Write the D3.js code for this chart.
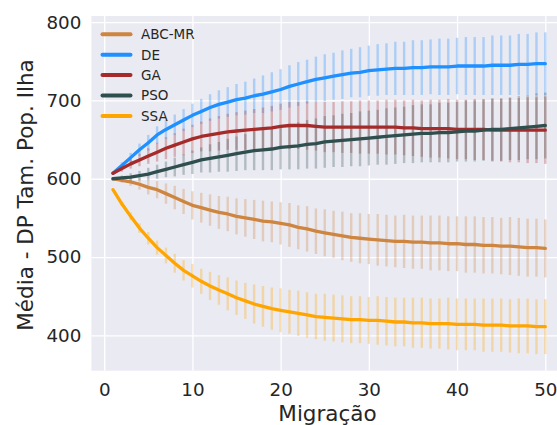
<!DOCTYPE html>
<html><head><meta charset="utf-8">
<script src="https://cdn.jsdelivr.net/npm/d3@7"></script>
<style>body{margin:0;background:#fff}svg{display:block}text{font-family:"DejaVu Sans",sans-serif;fill:#262626}</style>
</head><body>
<svg id="c" width="557" height="425"></svg>
<script>
const xs = [1,2,3,4,5,6,7,8,9,10,11,12,13,14,15,16,17,18,19,20,21,22,23,24,25,26,27,28,29,30,31,32,33,34,35,36,37,38,39,40,41,42,43,44,45,46,47,48,49,50];
const seriesNames = ["ABC-MR","DE","GA","PSO","SSA"];
const seriesColors = ["#CD853F","#1E90FF","#A52A2A","#2F4F4F","#FFA500"];
const abcMean = [600,598,596,593,589,586,581,576,571,566,563,560,557,555,552,550,548,546,545,543,541,538,536,533,531,529,527,525,524,523,522,521,520,520,519,519,518,518,517,517,516,516,515,515,514,514,513,512,512,511];
const abcStd  = [1,3,5,7,9,11,13,15,16,18,19,20,21,22,23,24,25,26,26,27,28,28,29,29,30,30,31,31,32,32,33,33,33,34,34,34,35,35,35,35,36,36,36,36,36,37,37,37,37,37];
const deMean  = [607,617,627,637,646,656,663,669,675,681,686,691,695,698,701,703,706,708,711,714,718,721,724,727,729,731,733,735,736,738,739,740,741,741,742,742,743,743,743,744,744,744,744,745,745,745,746,746,747,747];
const deStd   = [2,4,6,8,10,11,12,13,14,15,16,17,18,19,20,21,22,24,25,26,27,28,28,29,30,30,31,31,32,32,33,33,34,34,35,35,35,36,36,36,37,37,37,38,38,38,39,39,40,40];
const gaMean  = [607,613,619,624,629,634,639,643,647,651,654,656,658,660,661,662,663,664,665,667,668,668,668,667,666,666,666,666,666,666,666,666,666,665,665,664,664,664,664,663,663,663,663,662,662,662,662,662,662,662];
const gaStd   = [2,4,6,8,10,12,14,15,17,18,19,21,22,23,24,25,26,27,28,29,30,30,31,31,32,32,33,33,34,34,34,35,35,35,36,36,37,37,38,38,38,39,39,40,40,41,41,42,42,43];
const psoMean = [600,601,602,604,606,609,612,615,618,621,624,626,628,630,632,634,636,637,638,640,641,642,644,645,647,648,649,650,651,652,653,654,655,656,657,658,658,659,659,660,661,661,662,663,663,664,665,666,667,668];
const psoStd  = [1,3,5,6,8,9,10,12,13,15,16,18,19,21,22,23,25,26,27,28,29,30,31,32,33,33,34,34,35,35,35,36,36,36,37,37,37,38,38,38,39,39,39,40,40,40,41,41,42,42];
const ssaMean = [586,568,552,537,524,512,502,492,483,476,469,463,458,453,448,444,440,437,434,432,430,428,426,424,423,422,421,420,420,419,419,418,417,417,416,416,415,415,415,414,414,414,413,413,413,412,412,412,411,411];
const ssaStd  = [1,3,5,6,8,9,10,12,13,15,16,18,19,21,22,23,25,26,27,28,28,29,29,29,30,30,30,30,30,30,31,31,31,31,32,32,32,32,33,33,33,33,34,34,34,34,35,35,35,35];
const xTicks = [0,10,20,30,40,50];
const yTicks = [400,500,600,700,800];
const xLabel = "Migração";
const yLabel = "Média - DP Tam. Pop. Ilha";

const means = [abcMean, deMean, gaMean, psoMean, ssaMean];
const stds = [abcStd, deStd, gaStd, psoStd, ssaStd];
const series = seriesNames.map((n,i)=>({name:n,color:seriesColors[i],pts:xs.map((x,j)=>({x,m:means[i][j],s:stds[i][j]}))}));

const svg = d3.select("#c");
const L=91.4, R=566.9, T=16, B=370.7;
const x = d3.scaleLinear().domain([-1.45,52.45]).range([L,R]);
const y = d3.scaleLinear().domain([354.8,807.9]).range([B,T]);

svg.append("rect").attr("x",L).attr("y",T).attr("width",R-L).attr("height",B-T).attr("fill","#EAEAF2");

const gx = svg.append("g").attr("transform",`translate(0,${B})`)
  .call(d3.axisBottom(x).tickValues(xTicks).tickSize(-(B-T)).tickPadding(12).tickFormat(d3.format("d")));
const gy = svg.append("g").attr("transform",`translate(${L},0)`)
  .call(d3.axisLeft(y).tickValues(yTicks).tickSize(-(R-L)).tickPadding(10).tickFormat(d3.format("d")));
[gx,gy].forEach(g=>{
  g.select(".domain").remove();
  g.selectAll(".tick line").attr("stroke","#fff").attr("stroke-width",1.3);
  g.selectAll(".tick text").style("font-size","18.3px").attr("fill","#262626");
});

const plot = svg.append("g");
series.forEach(s=>{
  plot.append("g").selectAll("line").data(s.pts).join("line")
    .attr("x1",d=>x(d.x)).attr("x2",d=>x(d.x))
    .attr("y1",d=>y(d.m-d.s)).attr("y2",d=>y(d.m+d.s))
    .attr("stroke",s.color).attr("stroke-opacity",0.3).attr("stroke-width",2.4);
});
const line = d3.line().x(d=>x(d.x)).y(d=>y(d.m));
series.forEach(s=>{
  plot.append("path").datum(s.pts).attr("d",line).attr("fill","none")
    .attr("stroke",s.color).attr("stroke-width",3.3).attr("stroke-linejoin","round").attr("stroke-linecap","round");
});

const leg = svg.append("g");
series.forEach((s,i)=>{
  const yy = 34.3 + i*20.4;
  leg.append("line").attr("x1",102.5).attr("x2",130.5).attr("y1",yy).attr("y2",yy)
    .attr("stroke",s.color).attr("stroke-width",4).attr("stroke-linecap","round");
  leg.append("text").attr("x",141).attr("y",yy).attr("dy","0.36em").style("font-size","13.5px").text(s.name);
});

svg.append("text").attr("x",327.5).attr("y",420.5).attr("text-anchor","middle").style("font-size","21.5px").text(xLabel);
svg.append("text").attr("transform","translate(32.5,195) rotate(-90)").attr("text-anchor","middle").style("font-size","21.5px").text(yLabel);
</script>
</body></html>
